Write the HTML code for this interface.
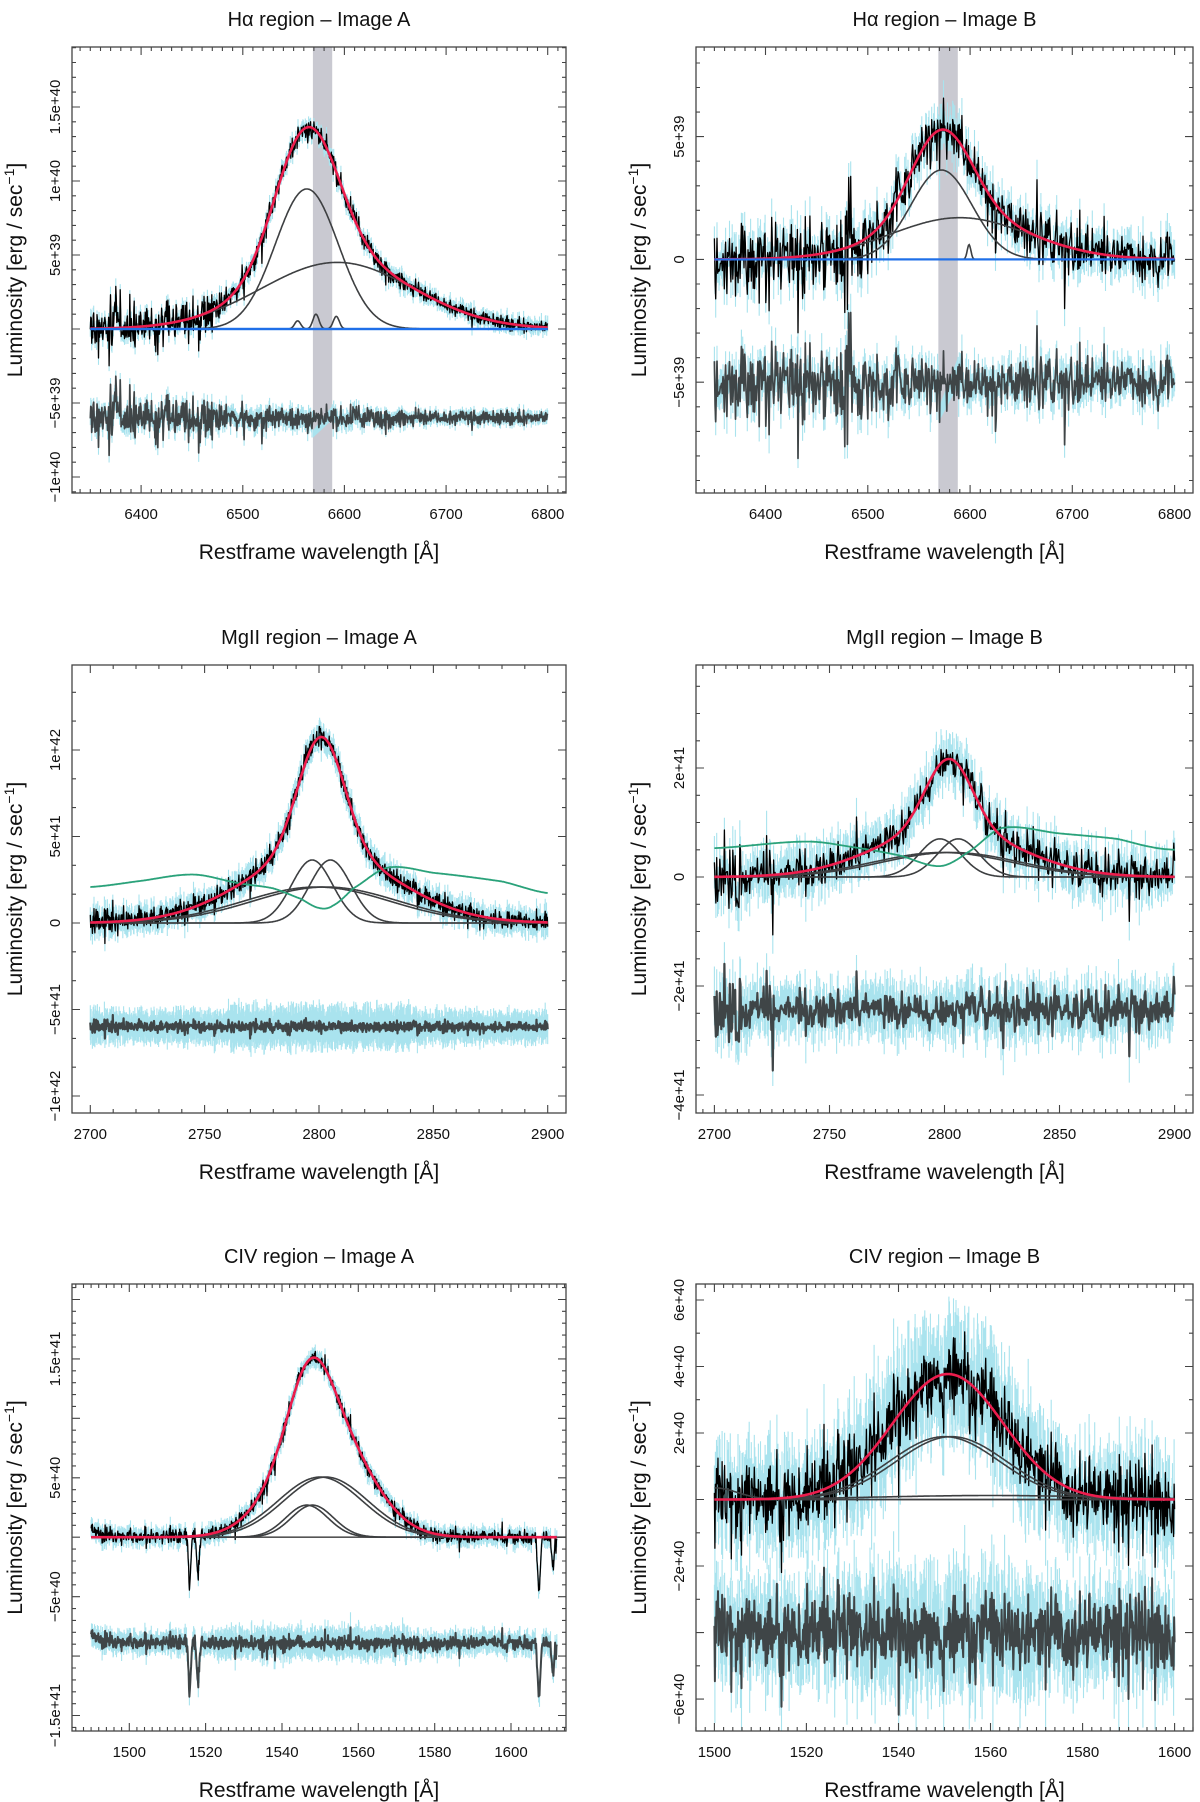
<!DOCTYPE html>
<html><head><meta charset="utf-8"><title>Emission line fits</title>
<style>
html,body{margin:0;padding:0;background:#fff;}
svg{display:block;font-family:"Liberation Sans",Arial,sans-serif;}
</style></head>
<body>
<svg id="fig" width="1200" height="1802" viewBox="0 0 1200 1802" xmlns="http://www.w3.org/2000/svg"></svg>
<script>
// ---------------- DATA ----------------
// H-alpha, image A
const haA_centers=[6563,6593,6554,6572,6592];
const haA_amps=[9.46e39,4.5e39,0.55e39,1.0e39,0.85e39];
const haA_sigmas=[31,75,3,3,3];
const haA_ticks=[-1e40,-5e39,0,5e39,1e40,1.5e40];
const haA_tickLabels=["\u22121e+40","\u22125e+39","","5e+39","1e+40","1.5e+40"];
// H-alpha, image B
const haB_centers=[6572,6590,6599];
const haB_amps=[3.64e39,1.7e39,0.6e39];
const haB_sigmas=[30,68,1.8];
const haB_ticks=[-5e39,0,5e39];
const haB_tickLabels=["\u22125e+39","0","5e+39"];
// MgII, image A
const mgA_centers=[2797,2805,2799,2803];
const mgA_amps=[3.64e41,3.64e41,2.08e41,2.08e41];
const mgA_sigmas=[9,9,32,32];
const mgA_feX=[2700,2720,2745,2765,2780,2792,2800,2806,2815,2830,2850,2880,2900];
const mgA_feY=[2.08e41,2.4e41,2.8e41,2.3e41,2.0e41,1.4e41,0.87e41,1.0e41,2.0e41,3.2e41,2.9e41,2.4e41,1.73e41];
const mgA_ticks=[-1e42,-5e41,0,5e41,1e42];
const mgA_tickLabels=["\u22121e+42","\u22125e+41","0","5e+41","1e+42"];
// MgII, image B
const mgB_centers=[2798,2806,2799,2803];
const mgB_amps=[0.7e41,0.7e41,0.45e41,0.45e41];
const mgB_sigmas=[9,9,30,30];
const mgB_feX=[2700,2740,2760,2780,2798,2810,2825,2850,2875,2890,2900];
const mgB_feY=[0.53e41,0.65e41,0.55e41,0.4e41,0.2e41,0.45e41,0.9e41,0.8e41,0.7e41,0.55e41,0.5e41];
const mgB_ticks=[-4e41,-2e41,0,2e41];
const mgB_tickLabels=["\u22124e+41","\u22122e+41","0","2e+41"];
// CIV, image A
const civA_centers=[1550,1551.5,1546.5,1548];
const civA_amps=[5.06e40,5.06e40,2.7e40,2.7e40];
const civA_sigmas=[11,11,5.5,5.5];
const civA_ticks=[-1.5e41,-1e41,-5e40,0,5e40,1e41,1.5e41];
const civA_tickLabels=["\u22121.5e+41","","\u22125e+40","","5e+40","","1.5e+41"];
// CIV, image B
const civB_centers=[1550,1551.5,1500,1560];
const civB_amps=[1.89e40,1.89e40,0.35e40,0.12e40];
const civB_sigmas=[12,12,5,25];
const civB_ticks=[-6e40,-4e40,-2e40,0,2e40,4e40,6e40];
const civB_tickLabels=["\u22126e+40","","\u22122e+40","","2e+40","4e+40","6e+40"];

// ---------------- helpers ----------------
const NS="http://www.w3.org/2000/svg";
const svg=document.getElementById('fig');
let seed=12345;
function rnd(){seed|=0;seed=seed+0x6D2B79F5|0;let t=Math.imul(seed^seed>>>15,1|seed);t=t+Math.imul(t^t>>>7,61|t)^t;return((t^t>>>14)>>>0)/4294967296;}
function gauss(){let u=rnd()||1e-9,v=rnd();return Math.sqrt(-2*Math.log(u))*Math.cos(2*Math.PI*v);}
function el(tag,attrs,parent){const e=document.createElementNS(NS,tag);for(const k in attrs)e.setAttribute(k,attrs[k]);(parent||svg).appendChild(e);return e;}
function model(x,c,a,s,nFit){let v=0;for(let i=0;i<nFit;i++)v+=a[i]*Math.exp(-0.5*Math.pow((x-c[i])/s[i],2));return v;}
function comp(x,c,a,s,i){return a[i]*Math.exp(-0.5*Math.pow((x-c[i])/s[i],2));}
// smooth (Catmull-Rom) curve through knots
function smoothInterp(x,xs,ys){
  let i=1;while(i<xs.length-1&&x>xs[i])i++;
  const x0=xs[i-1],x1=xs[i];const t=Math.max(0,Math.min(1,(x-x0)/(x1-x0)));
  const p0=ys[Math.max(0,i-2)],p1=ys[i-1],p2=ys[i],p3=ys[Math.min(ys.length-1,i+1)];
  const t2=t*t,t3=t2*t;
  return 0.5*((2*p1)+(-p0+p2)*t+(2*p0-5*p1+4*p2-p3)*t2+(-p0+3*p1-3*p2+p3)*t3);
}

function panel(p){
  const g=el('g',{});
  
  
  const B=p.box;
  const X=v=>B.x+(v-p.xlim[0])/(p.xlim[1]-p.xlim[0])*B.w;
  const Y=v=>B.y+B.h-(v-p.ylim[0])/(p.ylim[1]-p.ylim[0])*B.h;
  const clipId='clip-'+p.name;
  const cp=el('clipPath',{id:clipId},g);el('rect',{x:B.x,y:B.y,width:B.w,height:B.h},cp);
  const plot=el('g',{'clip-path':'url(#'+clipId+')'},g);
  if(p.band){const r=el('rect',{x:X(p.band[0]),y:B.y,width:X(p.band[1])-X(p.band[0]),height:B.h,fill:'#c9c9d1'},plot);
    }
  const n=p.n;const xs=[];for(let i=0;i<n;i++)xs.push(p.data[0]+(p.data[1]-p.data[0])*i/(n-1));
  const nFit=p.nFit||p.c.length;
  const mod=xs.map(x=>model(x,p.c,p.a,p.s,nFit));
  const dat=[],err=[],res=[],rerr=[];
  const rs=p.rscale||1;
  for(let i=0;i<n;i++){
    const x=xs[i];const sd=p.sd(x);
    let nz=gauss()*sd; if(rnd()<0.02)nz+= (rnd()<0.7?-1:1)*sd*3;
    let extra=p.extra?p.extra(x):0;
    dat.push(mod[i]+nz+extra);err.push(p.err(x)*(0.6+0.8*rnd()));
    res.push(p.roff+nz*rs+extra);rerr.push(p.rerr(x)*(0.6+0.8*rnd()));
  }
  const inBand=x=>p.band&&x>p.band[0]&&x<p.band[1];
  let d='';for(let i=0;i<n;i++){d+='M'+X(xs[i]).toFixed(1)+' '+Y(dat[i]-err[i]).toFixed(1)+'V'+Y(dat[i]+err[i]).toFixed(1);}
  let e=el('path',{d:d,stroke:'#a9e3ee','stroke-width':1.1,fill:'none'},plot);
  
  d='';for(let i=0;i<n;i++){if(inBand(xs[i]))continue;d+='M'+X(xs[i]).toFixed(1)+' '+Y(res[i]-rerr[i]).toFixed(1)+'V'+Y(res[i]+rerr[i]).toFixed(1);}
  e=el('path',{d:d,stroke:'#a9e3ee','stroke-width':1.1,fill:'none'},plot);
  
  if(p.band){const x0=p.band[0],x1=p.band[1];const w=p.rerr(x0)*1.5;
    e=el('polygon',{points:[X(x0),Y(p.roff-w-0.3*w),X(x1),Y(p.roff+w*1.2),X(x1),Y(p.roff-w*0.2),X(x0),Y(p.roff-w*2)].join(' '),fill:'#a9e3ee'},plot);
    }
  const line=(arr,skip)=>{let s='',pen=false;for(let i=0;i<n;i++){if(skip&&inBand(xs[i])){continue;}s+=(pen?'L':'M')+X(xs[i]).toFixed(1)+' '+Y(arr[i]).toFixed(1);pen=true;}return s;};
  e=el('path',{d:line(dat,false),stroke:'#000','stroke-width':1.3,fill:'none','stroke-linejoin':'round'},plot);
  
  if(p.baseline){e=el('line',{x1:X(p.data[0]),x2:X(p.baseEnd||p.data[1]),y1:Y(0),y2:Y(0),stroke:p.baseline,'stroke-width':p.baseline==='#1f6fe8'?2.2:1.6},plot);
    }
  for(let k=0;k<p.c.length;k++){
    if(p.a[k]===0)continue;
    let s='';for(let i=0;i<n;i++)s+=(i?'L':'M')+X(xs[i]).toFixed(1)+' '+Y(comp(xs[i],p.c,p.a,p.s,k)).toFixed(1);
    e=el('path',{d:s,stroke:'#3d3f41','stroke-width':1.6,fill:'none'},plot);
    
  }
  if(p.feX){let s='';for(let i=0;i<n;i++)s+=(i?'L':'M')+X(xs[i]).toFixed(1)+' '+Y(smoothInterp(xs[i],p.feX,p.feY)).toFixed(1);
    e=el('path',{d:s,stroke:'#2aa27a','stroke-width':1.8,fill:'none'},plot);
    }
  let s='';for(let i=0;i<n;i++)s+=(i?'L':'M')+X(xs[i]).toFixed(1)+' '+Y(mod[i]).toFixed(1);
  e=el('path',{d:s,stroke:'#ec1d4d','stroke-width':2.6,fill:'none'},plot);
  
  if(p.baseline==='#1f6fe8'){e=el('line',{x1:X(p.data[0]),x2:X(p.data[1]),y1:Y(0),y2:Y(0),stroke:'#1f6fe8','stroke-width':2.2},plot);
    }
  e=el('path',{d:line(res,p.band?false:false),stroke:'#3f4547','stroke-width':p.rw||1.7,fill:'none','stroke-linejoin':'round'},plot);
  
  e=el('rect',{x:B.x,y:B.y,width:B.w,height:B.h,fill:'none',stroke:'#444','stroke-width':1.3},g);
  
  let t='';
  const xm0=Math.ceil(p.xlim[0]/p.xminor)*p.xminor;
  for(let v=xm0;v<=p.xlim[1];v+=p.xminor){const isMaj=Math.abs(v/p.xmajor-Math.round(v/p.xmajor))<1e-6;const L=isMaj?8:4;const x=X(v).toFixed(1);
    t+='M'+x+' '+(B.y+B.h)+'v'+(-L)+'M'+x+' '+B.y+'v'+L;}
  const ystep=p.ymajor/p.ydiv;
  const ym0=Math.ceil(p.ylim[0]/ystep);
  for(let j=ym0;j*ystep<=p.ylim[1];j++){const v=j*ystep;const isMaj=j%p.ydiv===0;const L=isMaj?8:4;const y=Y(v).toFixed(1);
    t+='M'+B.x+' '+y+'h'+L+'M'+(B.x+B.w)+' '+y+'h'+(-L);}
  e=el('path',{d:t,stroke:'#444','stroke-width':1.1,fill:'none'},g);
  
  for(const v of p.xlabels){e=el('text',{x:X(v),y:B.y+B.h+26,'font-size':15,'text-anchor':'middle',fill:'#111'},g);e.textContent=String(v);
    }
  for(let i=0;i<p.yticks.length;i++){if(!p.ylabels[i])continue;const y=Y(p.yticks[i]);const x=B.x-12;
    e=el('text',{x:x,y:y,'font-size':15,'text-anchor':'middle',fill:'#111',transform:'rotate(-90 '+x+' '+y+')'},g);e.textContent=p.ylabels[i];
    }
  e=el('text',{x:B.x+B.w/2,y:B.y-21,'font-size':20,'text-anchor':'middle',fill:'#111'},g);e.textContent=p.title;
  
  e=el('text',{x:B.x+B.w/2,y:B.y+B.h+66,'font-size':21,'text-anchor':'middle',fill:'#111'},g);e.textContent='Restframe wavelength [\u00C5]';
  
  const yx=B.x-50,yy=B.y+B.h/2;
  e=el('text',{x:yx,y:yy,'font-size':21,'text-anchor':'middle',fill:'#111',transform:'rotate(-90 '+yx+' '+yy+')'},g);
  
  e.appendChild(document.createTextNode('Luminosity [erg / sec'));
  const sup=el('tspan',{dy:-8,'font-size':14},e);sup.textContent='\u22121';
  const tail=el('tspan',{dy:8},e);tail.textContent=']';
}

const LB={x:72,w:494},RB={x:696,w:497};
const R1={y:47,h:446},R2={y:665,h:448},R3={y:1284,h:447};

panel({name:'halpha-image-a',title:'H\u03B1 region \u2013 Image A',box:{...LB,...R1},xlim:[6332,6818],ylim:[-11.08e39,19.05e39],
  data:[6350,6800],n:950,nFit:2,c:haA_centers,a:haA_amps,s:haA_sigmas,band:[6569,6588],baseline:'#1f6fe8',
  sd:x=>x<6475?0.6e39:(x<6660?0.35e39:0.22e39),err:x=>0.4e39,roff:-6.0e39,rerr:x=>x<6620?0.45e39:0.3e39,
  extra:x=>1.6e39*Math.exp(-0.5*Math.pow((x-6375)/1.5,2)),
  xminor:10,xmajor:100,xlabels:[6400,6500,6600,6700,6800],ymajor:5e39,ydiv:5,yticks:haA_ticks,ylabels:haA_tickLabels});

panel({name:'halpha-image-b',title:'H\u03B1 region \u2013 Image B',box:{...RB,...R1},xlim:[6332,6818],ylim:[-9.51e39,8.65e39],
  data:[6350,6800],n:700,nFit:2,c:haB_centers,a:haB_amps,s:haB_sigmas,band:[6569,6588],baseline:'#1f6fe8',
  sd:x=>x<6530?0.75e39:0.5e39,err:x=>0.6e39,roff:-5.0e39,rerr:x=>0.55e39,
  xminor:10,xmajor:100,xlabels:[6400,6500,6600,6700,6800],ymajor:5e39,ydiv:5,yticks:haB_ticks,ylabels:haB_tickLabels});

panel({name:'mgii-image-a',title:'MgII region \u2013 Image A',box:{...LB,...R2},xlim:[2692,2908],ylim:[-10.98e41,14.91e41],
  data:[2700,2900],n:1100,c:mgA_centers,a:mgA_amps,s:mgA_sigmas,feX:mgA_feX,feY:mgA_feY,
  sd:x=>x<2710?0.4e41:0.28e41,err:x=>0.55e41,roff:-6.0e41,rscale:0.55,rerr:x=>(Math.abs(x-2800)<40?1.0e41:0.75e41),rw:2.2,
  xminor:10,xmajor:50,xlabels:[2700,2750,2800,2850,2900],ymajor:5e41,ydiv:3,yticks:mgA_ticks,ylabels:mgA_tickLabels});

panel({name:'mgii-image-b',title:'MgII region \u2013 Image B',box:{...RB,...R2},xlim:[2692,2908],ylim:[-4.33e41,3.89e41],
  data:[2700,2900],n:600,c:mgB_centers,a:mgB_amps,s:mgB_sigmas,feX:mgB_feX,feY:mgB_feY,
  sd:x=>x<2715?0.3e41:0.18e41,err:x=>0.35e41,roff:-2.45e41,rerr:x=>0.4e41,rw:2.2,
  xminor:5,xmajor:50,xlabels:[2700,2750,2800,2850,2900],ymajor:2e41,ydiv:4,yticks:mgB_ticks,ylabels:mgB_tickLabels});

panel({name:'civ-image-a',title:'CIV region \u2013 Image A',box:{...LB,...R3},xlim:[1485,1614.4],ylim:[-16.3e40,21.3e40],
  data:[1490,1612],n:1100,c:civA_centers,a:civA_amps,s:civA_sigmas,baseline:'#555',baseEnd:1614.4,
  sd:x=>0.3e40,err:x=>0.55e40,roff:-8.9e40,rerr:x=>(Math.abs(x-1548)<25?1.0e40:0.7e40),rw:2,
  extra:x=>0.8e40*Math.exp(-(x-1490)/2.5)-4e40*Math.exp(-0.5*Math.pow((x-1515.8)/0.3,2))-3.5e40*Math.exp(-0.5*Math.pow((x-1518)/0.3,2))-4.5e40*Math.exp(-0.5*Math.pow((x-1607.3)/0.35,2))-2.5e40*Math.exp(-0.5*Math.pow((x-1611)/0.35,2)),
  xminor:2,xmajor:20,xlabels:[1500,1520,1540,1560,1580,1600],ymajor:5e40,ydiv:5,yticks:civA_ticks,ylabels:civA_tickLabels});

panel({name:'civ-image-b',title:'CIV region \u2013 Image B',box:{...RB,...R3},xlim:[1496,1604],ylim:[-6.96e40,6.48e40],
  data:[1500,1600],n:900,nFit:2,c:civB_centers,a:civB_amps,s:civB_sigmas,baseline:'#555',
  sd:x=>0.55e40,err:x=>(Math.abs(x-1550)<20?1.3e40:1.0e40),roff:-4.0e40,rerr:x=>(Math.abs(x-1550)<20?1.3e40:1.0e40),rw:2,
  xminor:2,xmajor:20,xlabels:[1500,1520,1540,1560,1580,1600],ymajor:2e40,ydiv:2,yticks:civB_ticks,ylabels:civB_tickLabels});
</script>
</body></html>
